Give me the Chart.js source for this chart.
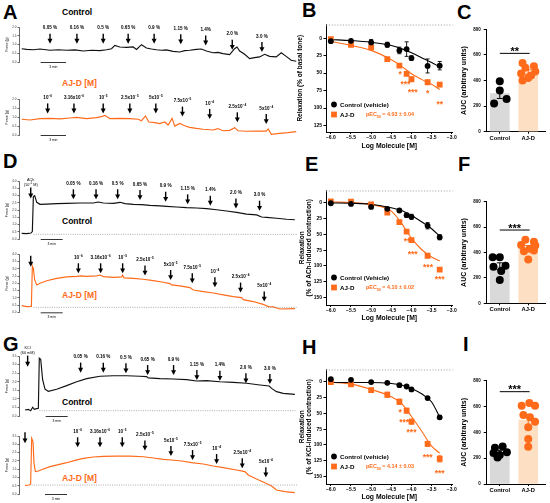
<!DOCTYPE html>
<html>
<head>
<meta charset="utf-8">
<title>AJ-D relaxation</title>
<script src="https://cdn.jsdelivr.net/npm/chart.js@4.4.1/dist/chart.umd.min.js"></script>
<style>
  html, body { margin: 0; padding: 0; background: #fff; }
  body { position: relative; width: 550px; height: 503px; overflow: hidden; font-family: 'Liberation Sans', Arial, sans-serif; }
  canvas { position: absolute; }
  .letter { position: absolute; font-size: 20px; line-height: 20px; font-weight: bold; }
  .tag { position: absolute; font-size: 8.5px; line-height: 10px; font-weight: bold; white-space: nowrap; }
  .orange { color: #ff6b1a; }
</style>
</head>
<body>
<div class="letter" style="left:3px;top:2px">A</div>
<div class="letter" style="left:302px;top:0px">B</div>
<div class="letter" style="left:457px;top:2px">C</div>
<div class="letter" style="left:3px;top:151px">D</div>
<div class="letter" style="left:305px;top:154px">E</div>
<div class="letter" style="left:458px;top:154px">F</div>
<div class="letter" style="left:3px;top:334px">G</div>
<div class="letter" style="left:302px;top:337px">H</div>
<div class="letter" style="left:463px;top:334px">I</div>

<div class="tag" style="left:62px;top:7px">Control</div>
<div class="tag orange" style="left:62px;top:78px">AJ-D [M]</div>
<div class="tag" style="left:62px;top:216px">Control</div>
<div class="tag orange" style="left:62px;top:290px">AJ-D [M]</div>
<div class="tag" style="left:62px;top:397px">Control</div>
<div class="tag orange" style="left:62px;top:473px">AJ-D [M]</div>

<script>
const orange = '#ff6b1a';
const fam = "'Liberation Sans', Arial, sans-serif";
Chart.defaults.font.family = fam;
Chart.defaults.color = '#000';
Chart.defaults.animation = false;

// ---- concentration steps written above the arrows
const vehicleSteps = ['0.05 %', '0.16 %', '0.5 %', '0.65 %', '0.9 %', '1.15 %', '1.4%', '2.0 %', '3.0 %'];
const ajdSteps = ['10^−6', '3.16x10^−6', '10^−5', '2.5x10^−5', '5x10^−5', '7.5x10^−5', '10^−4', '2.5x10^−4', '5x10^−4'];

// ---- A: basal tone traces (time in min, force in g)
const aCtrlTime = [0,0.59,1.38,2.17,3.36,4.34,5.33,6.32,7.30,8.29,9.28,10.07,10.66,11.05,11.64,12.43,13.22,13.62,14.21,14.80,15.39,15.99,16.58,17.17,17.96,18.75,19.34,19.93,20.72,21.32,21.91,22.70,23.29,23.88,24.67,25.26,25.54,25.86,26.45,27.04,27.63,28.22,28.82,29.41,30.20,30.79,31.38,31.97,32.57];
const aCtrlForce = [0.76,0.72,0.70,0.74,0.67,0.70,0.67,0.69,0.63,0.67,0.65,0.70,0.76,0.95,0.86,0.84,0.86,0.72,0.99,0.80,0.74,0.70,0.67,0.69,0.61,0.57,0.65,0.67,0.72,0.74,0.63,0.53,0.55,0.48,0.42,0.76,0.86,0.63,0.44,0.19,0.25,0.29,0.44,0.32,0.29,0.53,0.32,0.10,0.04];
const aCtrlArrowT = [3.36,6.55,9.67,12.63,15.71,18.87,21.83,24.98,28.50];
const aCtrlArrowV = [1.05,1.05,1.05,1.05,1.05,1.01,0.95,0.70,0.57];
const aAjdTime = [0,0.99,2.17,3.36,4.54,5.72,6.51,7.70,8.88,9.47,9.87,10.46,11.64,12.83,13.82,14.21,14.68,15.08,15.79,16.38,16.97,17.37,17.84,18.16,18.75,19.34,19.93,20.72,21.51,22.70,23.29,23.88,24.67,25.26,25.66,26.64,27.83,29.01,29.25,29.61,30.59,31.58,32.57];
const aAjdForce = [0.88,0.84,0.92,0.93,0.90,0.95,0.99,0.92,0.97,1.03,1.10,0.92,0.93,0.92,0.88,0.80,1.07,0.73,0.69,0.64,0.73,0.56,0.93,0.50,0.65,0.52,0.43,0.37,0.32,0.28,0.36,0.24,0.26,0.41,0.24,0.21,0.22,0.22,0.34,0.04,0.09,0.13,0.19];
const aAjdArrowT = [3.08,6.20,9.67,12.83,15.91,19.07,22.30,25.58,29.01];
const aAjdArrowV = [1.21,1.21,1.21,1.21,1.21,1.03,0.90,0.71,0.62];

// ---- D: ACh pre-contracted traces
const dCtrlTime = [0,0.68,1.27,1.45,1.59,1.77,2.05,2.5,3.41,4.77,6.14,7.95,9.77,10.45,11.14,12.5,13.41,14.09,15.23,16.36,17.5,18.86,19.77,21.14,22.5,23.86,25.23,26.59,27.95,29.32,30.68,32.05,32.73,33.41,34.77,36.14,37.27];
const dCtrlForce = [0.39,0.37,0.41,0.51,2.92,2.99,2.53,2.39,2.41,2.44,2.46,2.48,2.48,2.55,2.48,2.46,2.53,2.44,2.39,2.37,2.32,2.28,2.25,2.21,2.16,2.14,2.09,2.02,1.93,1.84,1.72,1.66,1.52,1.49,1.43,1.36,1.33];
const dCtrlArrowT = [7.05,10.14,13.09,16.14,19.64,22.64,25.73,29.23,32.45];
const dCtrlArrowV = [2.74,2.74,2.74,2.69,2.57,2.39,2.30,2.11,1.95];
const dAjdTime = [0,0.68,1.32,1.45,1.59,1.77,2.05,2.5,3.41,4.77,6.14,7.5,8.18,8.86,10.23,10.68,11.14,12.5,13.64,13.77,13.95,15.23,16.59,17.95,19.32,20.23,20.45,21.59,22.95,23.41,24.77,26.14,27.5,28.86,30.0,30.23,31.59,32.95,33.64,34.32,35.23,37.27];
const dAjdForce = [0.46,0.39,0.41,3.20,3.03,2.23,1.89,2.0,2.18,2.34,2.44,2.48,2.51,2.48,2.51,2.57,2.46,2.41,2.44,2.57,2.37,2.34,2.28,2.18,2.07,1.98,1.89,1.82,1.70,1.54,1.43,1.33,1.20,1.08,1.01,0.87,0.74,0.55,0.39,0.37,0.23,0.25];
const dAjdArrowT = [7.73,10.77,13.77,16.82,20.32,23.27,26.36,29.86,33.09];
const dAjdArrowV = [2.69,2.69,2.69,2.53,2.23,2.0,1.72,1.36,0.74];

// ---- G: KCl pre-contracted traces
const gCtrlTime = [0,0.45,0.77,1.05,1.27,1.59,1.82,1.95,2.14,2.41,2.73,3.18,4.32,5.68,7.05,8.41,10.23,12.05,13.86,15.68,16.59,16.82,18.41,20.23,22.05,23.41,24.77,26.59,28.41,30.23,32.05,33.32,33.64,34.32,35.23,36.82];
const gCtrlForce = [0.35,0.39,0.31,0.51,0.39,0.43,0.45,3.37,3.31,2.10,1.56,1.44,1.56,1.77,2.0,2.18,2.32,2.35,2.35,2.32,2.30,2.22,2.18,2.16,2.12,2.04,2.06,2.0,1.96,1.91,1.81,1.75,1.61,1.42,1.32,1.26];
const gCtrlArrowT = [7.59,10.68,13.77,16.73,20.27,23.45,26.59,30.14,33.41];
const gCtrlArrowV = [2.53,2.53,2.49,2.39,2.39,2.10,2.06,1.91,1.87];
const gAjdTime = [0,0.59,0.77,0.91,1.09,1.23,1.41,1.82,2.5,3.41,4.55,5.68,6.82,7.95,9.32,10.68,12.5,14.32,16.14,17.5,18.86,20.0,21.36,22.73,24.32,25.68,27.05,28.86,30.0,30.45,31.59,32.95,33.64,34.32,35.45,36.82];
const gAjdForce = [0.52,0.54,0.60,3.36,3.16,1.85,1.35,1.39,1.51,1.65,1.77,1.89,2.03,2.15,2.23,2.27,2.29,2.29,2.25,2.17,2.09,2.05,1.99,1.89,1.81,1.69,1.59,1.45,1.35,1.15,0.91,0.64,0.48,0.24,0.14,0.08];
const gAjdArrowT = [7.18,10.23,13.27,16.36,19.91,22.86,26.14,29.64,32.86];
const gAjdArrowV = [2.82,2.82,2.82,2.62,2.29,2.05,1.81,1.55,1.01];

// ---- B, E, H: concentration-response (log M vs % relaxation)
const logConc = [-6, -5.5, -5, -4.6, -4.3, -4.12, -4, -3.6, -3.3];
const fitLog = [-6, -5.5, -5, -4.5, -4.25, -4, -3.75, -3.5, -3.3];
const logTicks = [-6, -5.5, -5, -4.5, -4, -3.5, -3];

const bCtrl = [4.3, 3.8, 6.2, 9.5, 17.6, 15.7, 28.5, 39.8, 39.4];
const bCtrlSem = [1, 1, 4.3, 3.5, 4.7, 10.4, 3.3, 10, 6];
const bAjd = [1.4, 9.5, 13.3, 29.9, 39.4, 51.2, 58.8, 63.1, 66.4];
const bAjdSem = [1, 1, 3.3, 1.5, 2.5, 2.5, 3, 3, 3];
const bCtrlFit = [2, 3.5, 6, 10.5, 15, 21, 28, 35, 41];
const bAjdFit = [4.7, 10.4, 17.5, 31, 40, 51, 59, 66, 73.5];
const bStars = ['*', '***', '***', '*', '**'];
const bStarX = [-4.28, -4.15, -3.97, -3.6, -3.3];
const bStarY = [48.4, 62.6, 74.5, 75.4, 91];

const eCtrl = [0.5, 1.6, 6.3, 9.4, 12, 19.4, 22, 36.2, 54.5];
const eCtrlSem = [1.5, 1.5, 2, 2, 2, 3, 4, 5, 4];
const eAjd = [-2.6, -2.1, 2.1, 15.2, 30.4, 45.6, 59.2, 83.9, 105.9];
const eAjdSem = [1, 1, 1, 1, 1.5, 1.5, 1.5, 1.5, 2];
const eCtrlFit = [0, 0.5, 2, 7.5, 12, 20, 30, 41, 53];
const eAjdFit = [-1.6, -0.5, 2.6, 13, 32, 56, 74, 86, 92];
const eStars = ['**', '***', '***', '***'];
const eStarX = [-4.11, -3.97, -3.59, -3.3];
const eStarY = [57.1, 78.1, 98, 118];

const hCtrl = [-4.2, -3.2, 0.5, 1.6, 5.3, 7.4, 12.1, 25.8, 56.3];
const hCtrlSem = [1.5, 1.5, 1, 1, 1, 1.5, 2, 2, 3];
const hAjd = [0.5, 4.2, 13.2, 20.5, 31.6, 45.8, 63.2, 98.4, 122];
const hAjdSem = [1, 1.5, 3, 4, 4, 4, 4, 4, 5];
const hCtrlFit = [1, 1, 1, 2.6, 5, 10.5, 19, 32, 56];
const hAjdFit = [0.5, 3.7, 12.1, 23.7, 34, 55, 78, 102, 113];
const hStars = ['*', '***', '***', '***', '***'];
const hStarX = [-4.28, -4.18, -4.0, -3.6, -3.3];
const hStarY = [44.7, 60.5, 76.3, 115.8, 142];

// ---- C, F, I: AUC per tissue (x jitter as seen in the dot plots)
const groups = ['Control', 'AJ-D'];
const aucTicks = [0, 200, 400, 600, 800];
const cCtrl = [395, 321, 255, 221];
const cCtrlJit = [0, 0, 0.24, -0.2];
const cAjd = [537, 512, 500, 470, 455, 440, 420, 400];
const cAjdJit = [-0.2, 0.2, -0.1, 0.25, -0.25, 0.1, 0, -0.2];
const fCtrl = [362, 362, 296, 288, 254, 184];
const fCtrlJit = [-0.25, 0, 0.2, -0.22, 0.05, 0];
const fAjd = [500, 485, 460, 455, 430, 415, 410, 345];
const fAjdJit = [-0.1, 0.2, -0.25, 0.25, 0.05, 0.2, -0.15, 0];
const iCtrl = [290, 280, 245, 240, 225, 205];
const iCtrlJit = [0.1, -0.17, 0.25, -0.22, 0, -0.08];
const iAjd = [627, 606, 606, 534, 516, 483, 439, 348, 289];
const iAjdJit = [0.04, -0.23, 0.24, -0.17, 0.06, 0.24, 0, 0, 0];

const mean = a => a.reduce((s, v) => s + v, 0) / a.length;
const sem = a => { const m = mean(a); return Math.sqrt(a.reduce((s, v) => s + (v - m) ** 2, 0) / (a.length - 1) / a.length); };

function mk(left, top, w, h) {
  const c = document.createElement('canvas');
  c.width = w; c.height = h;
  c.style.left = left + 'px'; c.style.top = top + 'px';
  c.style.width = w + 'px'; c.style.height = h + 'px';
  document.body.appendChild(c);
  return c;
}

// text with ^superscript and _subscript runs, y = visual middle
function richText(ctx, str, x, y, size, weight, align) {
  const segs = str.split(/([\^_]\S+)/).filter(Boolean).map(p => {
    const sc = p[0] === '^' ? 1 : p[0] === '_' ? -1 : 0;
    const txt = sc ? p.slice(1) : p;
    const sz = sc ? size * 0.68 : size;
    ctx.font = `${weight} ${sz}px ${fam}`;
    return { txt, sz, sc, w: ctx.measureText(txt).width };
  });
  const total = segs.reduce((s, g) => s + g.w, 0);
  let cx = align === 'left' ? x : x - total / 2;
  ctx.textAlign = 'left'; ctx.textBaseline = 'alphabetic';
  segs.forEach(g => {
    ctx.font = `${weight} ${g.sz}px ${fam}`;
    const dy = g.sc === 1 ? -size * 0.42 : g.sc === -1 ? size * 0.2 : 0;
    ctx.fillText(g.txt, cx, y + size * 0.36 + dy);
    cx += g.w;
  });
}

function drawArrow(ctx, px, tip, len) {
  ctx.beginPath(); ctx.moveTo(px, tip - len); ctx.lineTo(px, tip - 3); ctx.stroke();
  ctx.beginPath(); ctx.moveTo(px - 2.5, tip - 4.8); ctx.lineTo(px + 2.5, tip - 4.8); ctx.lineTo(px, tip); ctx.closePath(); ctx.fill();
}

const traceDecor = {
  id: 'traceDecor',
  afterDatasetsDraw(chart, args, o) {
    const { ctx, chartArea: a, scales: { x, y } } = chart;
    ctx.save();
    if (o.baseline != null) {
      const yb = y.getPixelForValue(o.baseline);
      ctx.strokeStyle = '#8a8a8a'; ctx.lineWidth = 0.7; ctx.setLineDash([1, 1.3]);
      ctx.beginPath(); ctx.moveTo(x.getPixelForValue(o.baseFrom), yb); ctx.lineTo(a.right, yb); ctx.stroke();
      ctx.setLineDash([]);
    }
    // 3 min scale bar
    const s0 = x.getPixelForValue(o.barStart), s1 = x.getPixelForValue(o.barStart + 3);
    ctx.strokeStyle = '#000'; ctx.fillStyle = '#000'; ctx.lineWidth = 0.8;
    ctx.beginPath(); ctx.moveTo(s0, a.bottom + 0.5); ctx.lineTo(s1, a.bottom + 0.5); ctx.stroke();
    richText(ctx, '3 min', (s0 + s1) / 2, a.bottom + 4.5, 3.4, 'normal');
    // addition arrows
    ctx.lineWidth = 1.4;
    o.arrowT.forEach((t, i) => {
      const px = x.getPixelForValue(t), tip = y.getPixelForValue(o.arrowV[i]);
      drawArrow(ctx, px, tip, 10);
      richText(ctx, o.labels[i], px, tip - 16, 4.6, 'bold');
    });
    if (o.lead) {
      const px = x.getPixelForValue(o.lead.t), tip = y.getPixelForValue(o.lead.v);
      drawArrow(ctx, px, tip, 11);
      const n = o.lead.lines.length;
      o.lead.lines.forEach((ln, j) => richText(ctx, ln, px, tip - 14 - (n - 1 - j) * 4.6, 3.8, 'normal'));
    }
    ctx.restore();
  }
};

function traceChart(pos, tr) {
  const [left, top, w, h, padTop, padBottom] = pos;
  return new Chart(mk(left, top, w, h), {
    type: 'line',
    data: { datasets: [{ data: tr.time.map((t, i) => ({ x: t, y: tr.force[i] })), borderColor: tr.color, borderWidth: 1.15, pointRadius: 0 }] },
    options: {
      responsive: false, events: [],
      layout: { padding: { left: 0, top: padTop, right: 3, bottom: padBottom } },
      plugins: { legend: { display: false }, tooltip: { enabled: false }, traceDecor: tr.decor },
      scales: {
        x: { type: 'linear', display: false, min: tr.xRange[0], max: tr.xRange[1] },
        y: {
          min: 0, max: tr.yTicks[tr.yTicks.length - 1],
          afterFit: s => { s.width = 19; },
          afterBuildTicks: s => { s.ticks = tr.yTicks.map(v => ({ value: v })); },
          ticks: { font: { size: 3, weight: 'normal' }, padding: 1, color: '#333', callback: v => v.toFixed(1) },
          grid: { drawOnChartArea: false, tickLength: 1.5, color: '#000', lineWidth: 0.6 },
          border: { color: '#000', width: 0.6 },
          title: { display: true, text: 'Force (g)', font: { size: 3.6, weight: 'normal' }, padding: { top: 5, bottom: 0 } }
        }
      }
    },
    plugins: [traceDecor]
  });
}

const doseDecor = {
  id: 'doseDecor',
  beforeDatasetsDraw(chart) {
    const { ctx, chartArea: a, scales: { x, y } } = chart;
    ctx.save();
    ctx.strokeStyle = '#aaa'; ctx.lineWidth = 1; ctx.setLineDash([1.2, 1.6]);
    ctx.beginPath(); ctx.moveTo(a.left, a.top + 0.5); ctx.lineTo(a.right, a.top + 0.5); ctx.stroke();
    ctx.setLineDash([]);
    chart.data.datasets.forEach(ds => {
      if (!ds.sem) return;
      ctx.strokeStyle = ds.backgroundColor; ctx.lineWidth = 0.9;
      ds.data.forEach((p, i) => {
        const px = x.getPixelForValue(p.x), y0 = y.getPixelForValue(p.y - ds.sem[i]), y1 = y.getPixelForValue(p.y + ds.sem[i]);
        ctx.beginPath(); ctx.moveTo(px, y0); ctx.lineTo(px, y1);
        ctx.moveTo(px - 2, y0); ctx.lineTo(px + 2, y0); ctx.moveTo(px - 2, y1); ctx.lineTo(px + 2, y1);
        ctx.stroke();
      });
    });
    ctx.restore();
  },
  afterDatasetsDraw(chart, args, o) {
    const { ctx, chartArea: a, scales: { x, y } } = chart;
    ctx.save();
    ctx.fillStyle = orange; ctx.textAlign = 'center'; ctx.textBaseline = 'alphabetic';
    ctx.font = `bold 8.5px ${fam}`;
    o.stars.forEach((s, i) => ctx.fillText(s, x.getPixelForValue(o.starX[i]), y.getPixelForValue(o.starY[i]) + 8.5 * 0.58));
    // legend
    const lx = a.left + 8;
    [0, 1].forEach(k => {
      const ds = chart.data.datasets[k], ly = a.bottom - 27.5 + k * 10;
      ctx.fillStyle = ds.backgroundColor;
      if (k === 0) { ctx.beginPath(); ctx.arc(lx, ly, 2.9, 0, Math.PI * 2); ctx.fill(); }
      else ctx.fillRect(lx - 2.9, ly - 2.9, 5.8, 5.8);
      ctx.fillStyle = '#000';
      richText(ctx, ds.label, lx + 6, ly, 6.2, 'bold', 'left');
    });
    ctx.fillStyle = orange;
    richText(ctx, o.pec, a.left + 40, a.bottom - 17.5, 5.4, 'bold', 'left');
    ctx.restore();
  }
};

function doseChart(pos, d) {
  const [left, top, w, h, padTop, xAxisH, titlePad] = pos;
  const pts = ys => logConc.map((x, i) => ({ x, y: ys[i] }));
  const fit = ys => fitLog.map((x, i) => ({ x, y: ys[i] }));
  return new Chart(mk(left, top, w, h), {
    type: 'scatter',
    data: { datasets: [
      { label: d.ctrlLabel, data: pts(d.ctrl), sem: d.ctrlSem, pointStyle: 'circle', pointRadius: 2.9, backgroundColor: '#000', pointBorderWidth: 0 },
      { label: 'AJ-D', data: pts(d.ajd), sem: d.ajdSem, pointStyle: 'rect', pointRadius: 4.1, backgroundColor: orange, pointBorderWidth: 0 },
      { data: fit(d.ctrlFit), showLine: true, borderColor: '#000', borderWidth: 1.1, pointRadius: 0, cubicInterpolationMode: 'monotone' },
      { data: fit(d.ajdFit), showLine: true, borderColor: orange, borderWidth: 1.1, pointRadius: 0, cubicInterpolationMode: 'monotone' }
    ] },
    options: {
      responsive: false, events: [],
      layout: { padding: { left: 0, top: padTop, right: 12.4, bottom: 0 } },
      plugins: { legend: { display: false }, tooltip: { enabled: false }, doseDecor: { stars: d.stars, starX: d.starX, starY: d.starY, pec: d.pec } },
      scales: {
        x: {
          type: 'linear', min: -6.12, max: -2.98,
          afterFit: s => { s.height = xAxisH; },
          afterBuildTicks: s => { s.ticks = logTicks.map(v => ({ value: v })); },
          ticks: { font: { size: 5, weight: 'bold' }, padding: 0.5, callback: v => v.toFixed(1).replace('-', '\u2212') },
          grid: { drawOnChartArea: false, tickLength: 2, color: '#000' },
          border: { color: '#000', width: 1 },
          title: { display: true, text: 'Log Molecule [M]', font: { size: 6.8, weight: 'bold' }, padding: { top: 0, bottom: titlePad } }
        },
        y: {
          reverse: true, min: d.yRange[0], max: d.yRange[1],
          afterFit: s => { s.width = 31; },
          afterBuildTicks: s => { s.ticks = d.yTicks.map(v => ({ value: v })); },
          ticks: { font: { size: 5, weight: 'bold' }, padding: 1.5 },
          grid: { drawOnChartArea: false, tickLength: 2.5, color: '#000' },
          border: { color: '#000', width: 1 },
          title: { display: true, text: d.yTitle, font: { size: 6.5, weight: 'bold', lineHeight: 1.05 }, padding: { top: d.yTitlePad, bottom: 0 } }
        }
      }
    },
    plugins: [doseDecor]
  });
}

const barDecor = {
  id: 'barDecor',
  beforeDatasetDraw(chart, args, o) {
    if (args.index !== 1) return;   // between the bars and the dots
    const { ctx, scales: { x, y } } = chart;
    ctx.save(); ctx.lineWidth = 1;
    [[o.ctrl, 0, '#000'], [o.ajd, 1, orange]].forEach(([vals, gx, col]) => {
      const m = mean(vals), e = sem(vals), px = x.getPixelForValue(gx);
      const y0 = y.getPixelForValue(m - e), y1 = y.getPixelForValue(m + e);
      ctx.strokeStyle = col;
      ctx.beginPath(); ctx.moveTo(px, y0); ctx.lineTo(px, y1);
      ctx.moveTo(px - 3, y0); ctx.lineTo(px + 3, y0); ctx.moveTo(px - 3, y1); ctx.lineTo(px + 3, y1); ctx.stroke();
    });
    ctx.restore();
  },
  afterDatasetsDraw(chart, args, o) {
    const { ctx, scales: { x, y } } = chart;
    const yl = y.getPixelForValue(o.sigY), x0 = x.getPixelForValue(0), x1 = x.getPixelForValue(1.05);
    ctx.save();
    ctx.strokeStyle = '#000'; ctx.lineWidth = 1;
    ctx.beginPath(); ctx.moveTo(x0, yl); ctx.lineTo(x1, yl); ctx.stroke();
    ctx.fillStyle = '#000'; ctx.font = `bold 11px ${fam}`; ctx.textAlign = 'center'; ctx.textBaseline = 'alphabetic';
    ctx.fillText(o.sig, (x0 + x1) / 2, yl - 1.5 + 11 * 0.3);
    ctx.restore();
  }
};

function aucChart(pos, d) {
  const [left, top, w, h, padTop, xAxisH] = pos;
  return new Chart(mk(left, top, w, h), {
    type: 'bar',
    data: { datasets: [
      { type: 'scatter', data: d.ajd.map((v, i) => ({ x: 1 + d.ajdJit[i], y: v })), pointRadius: 4, backgroundColor: orange, pointBorderWidth: 0 },
      { type: 'scatter', data: d.ctrl.map((v, i) => ({ x: d.ctrlJit[i], y: v })), pointRadius: 4, backgroundColor: '#000', pointBorderWidth: 0 },
      { type: 'bar', data: [{ x: 0, y: mean(d.ctrl) }, { x: 1, y: mean(d.ajd) }], backgroundColor: ['#d9d9d9', '#fde0c3'], barThickness: 19 }
    ] },
    options: {
      responsive: false, events: [],
      layout: { padding: { left: 0, top: padTop, right: 5, bottom: 0 } },
      plugins: { legend: { display: false }, tooltip: { enabled: false }, barDecor: { ctrl: d.ctrl, ajd: d.ajd, sig: d.sig, sigY: d.sigY } },
      scales: {
        x: {
          type: 'linear', min: -0.46, max: 1.59, offset: false,
          afterFit: s => { s.height = xAxisH; },
          afterBuildTicks: s => { s.ticks = [0, 1].map(v => ({ value: v })); },
          ticks: { font: { size: 5.8, weight: 'bold' }, padding: 1, callback: v => groups[v] },
          grid: { drawOnChartArea: false, offset: false, tickLength: 2, color: '#000' },
          border: { color: '#000', width: 1 }
        },
        y: {
          min: 0, max: 800,
          afterFit: s => { s.width = 27.7; },
          afterBuildTicks: s => { s.ticks = aucTicks.map(v => ({ value: v })); },
          ticks: { font: { size: 4.5, weight: 'bold' }, padding: 3 },
          grid: { drawOnChartArea: false, tickLength: 3, color: '#000' },
          border: { color: '#000', width: 1 },
          title: { display: true, text: 'AUC (arbitrary units)', font: { size: 7, weight: 'bold', lineHeight: 1 }, padding: { top: 1.8, bottom: 0 } }
        }
      }
    },
    plugins: [barDecor]
  });
}

// ---------- A ----------
traceChart([0, 18, 300, 57, 9, 13], { time: aCtrlTime, force: aCtrlForce, color: '#111', xRange: [-0.32, 32.66], yTicks: [0, 0.5, 1, 1.5, 2],
  decor: { arrowT: aCtrlArrowT, arrowV: aCtrlArrowV, labels: vehicleSteps, barStart: 2.25, baseline: null, lead: null } });
traceChart([0, 90, 300, 53, 9.3, 8], { time: aAjdTime, force: aAjdForce, color: orange, xRange: [-0.32, 32.66], yTicks: [0, 0.5, 1, 1.5, 2],
  decor: { arrowT: aAjdArrowT, arrowV: aAjdArrowV, labels: ajdSteps, barStart: 2.25, baseline: null, lead: null } });

// ---------- D ----------
const dTicks = [0, 0.5, 1, 1.5, 2, 2.5, 3, 3.5, 4];
traceChart([0, 174, 300, 72, 7, 7], { time: dCtrlTime, force: dCtrlForce, color: '#111', xRange: [-0.37, 37.56], yTicks: dTicks,
  decor: { arrowT: dCtrlArrowT, arrowV: dCtrlArrowV, labels: vehicleSteps, barStart: 2.59, baseline: 0.32, baseFrom: 1.6,
           lead: { t: 1.23, v: 2.8, lines: ['ACh', '(10^−5 M)'] } } });
traceChart([0, 248, 300, 72, 6.3, 7.7], { time: dAjdTime, force: dAjdForce, color: orange, xRange: [-0.37, 37.56], yTicks: dTicks,
  decor: { arrowT: dAjdArrowT, arrowV: dAjdArrowV, labels: ajdSteps, barStart: 2.59, baseline: 0.34, baseFrom: 1.6,
           lead: { t: 1.23, v: 3.15, lines: [] } } });

// ---------- G ----------
const gTicks = [0, 0.5, 1, 1.5, 2, 2.5, 3, 3.5];
traceChart([0, 342, 300, 84, 14, 10], { time: gCtrlTime, force: gCtrlForce, color: '#111', xRange: [-0.82, 37.11], yTicks: gTicks,
  decor: { arrowT: gCtrlArrowT, arrowV: gCtrlArrowV, labels: vehicleSteps, barStart: 2.82, baseline: 0.31, baseFrom: 1.95,
           lead: { t: 0.36, v: 2.88, lines: ['KCl', '(60 mM)'] } } });
traceChart([0, 427, 300, 76, 9, 9], { time: gAjdTime, force: gAjdForce, color: orange, xRange: [-0.82, 37.11], yTicks: gTicks,
  decor: { arrowT: gAjdArrowT, arrowV: gAjdArrowV, labels: ajdSteps, barStart: 2.73, baseline: 0.54, baseFrom: 0.9,
           lead: { t: 0, v: 3.06, lines: [] } } });

// ---------- B, E, H ----------
doseChart([295, 20, 170, 132, 4, 20, 2], { ctrl: bCtrl, ctrlSem: bCtrlSem, ajd: bAjd, ajdSem: bAjdSem, ctrlFit: bCtrlFit, ajdFit: bAjdFit,
  ctrlLabel: 'Control (vehicle)', pec: 'pEC_50 = 4.03 ± 0.04', stars: bStars, starX: bStarX, starY: bStarY,
  yRange: [-19.5, 134.3], yTicks: [0, 25, 50, 75, 100, 125], yTitle: 'Relaxation (% of basal tone)', yTitlePad: 1.5 });
doseChart([295, 186, 170, 136, 4, 17, 0], { ctrl: eCtrl, ctrlSem: eCtrlSem, ajd: eAjd, ajdSem: eAjdSem, ctrlFit: eCtrlFit, ajdFit: eAjdFit,
  ctrlLabel: 'Control (Vehicle)', pec: 'pEC_50 = 4.10 ± 0.02', stars: eStars, starX: eStarX, starY: eStarY,
  yRange: [-19.8, 162.2], yTicks: [0, 25, 50, 75, 100, 125, 150], yTitle: ['Relaxation', '(% of ACh-induced contraction)'], yTitlePad: 3.6 });
doseChart([295, 365, 170, 138, 4.3, 19, 2], { ctrl: hCtrl, ctrlSem: hCtrlSem, ajd: hAjd, ajdSem: hAjdSem, ctrlFit: hCtrlFit, ajdFit: hAjdFit,
  ctrlLabel: 'Control (vehicle)', pec: 'pEC_50 = 4.14 ± 0.03', stars: hStars, starX: hStarX, starY: hStarY,
  yRange: [-19.5, 161.9], yTicks: [0, 25, 50, 75, 100, 125, 150], yTitle: ['Relaxation', '(% of KCl-induced contraction)'], yTitlePad: 3.6 });

// ---------- C, F, I ----------
aucChart([459, 22, 91, 122, 7.3, 12.3], { ctrl: cCtrl, ctrlJit: cCtrlJit, ajd: cAjd, ajdJit: cAjdJit, sig: '**', sigY: 612 });
aucChart([459, 194, 91, 122, 7.7, 12.7], { ctrl: fCtrl, ctrlJit: fCtrlJit, ajd: fAjd, ajdJit: fAjdJit, sig: '***', sigY: 577 });
aucChart([459, 373, 91, 124, 7.7, 13], { ctrl: iCtrl, ctrlJit: iCtrlJit, ajd: iAjd, ajdJit: iAjdJit, sig: '***', sigY: 715 });
</script>
</body>
</html>
